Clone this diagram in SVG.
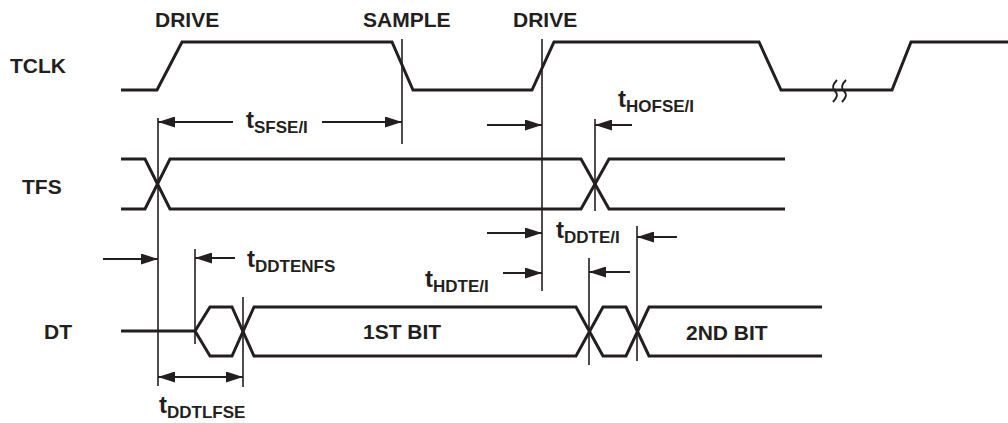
<svg xmlns="http://www.w3.org/2000/svg" width="1008" height="423" viewBox="0 0 1008 423">
<defs>
<style>
.wave{fill:none;stroke:#231f20;stroke-width:3;stroke-linejoin:miter}
.vl{fill:none;stroke:#231f20;stroke-width:1.6}
.ar{fill:none;stroke:#231f20;stroke-width:1.8}
.lbl{font-family:"Liberation Sans",Arial,sans-serif;font-weight:bold;font-size:21px;fill:#231f20}
.t{font-family:"Liberation Sans",Arial,sans-serif;font-weight:bold;font-size:24px;fill:#231f20}
.sub{font-size:17px}
</style>
<marker id="ah" viewBox="0 0 17 11" refX="17" refY="5.5" markerWidth="17" markerHeight="11" markerUnits="userSpaceOnUse" orient="auto-start-reverse">
<path d="M0,0 L17,5.5 L0,11 z" fill="#231f20"/>
</marker>
</defs>
<rect width="1008" height="423" fill="#ffffff"/>

<g id="labels">
<text class="lbl" x="155" y="27">DRIVE</text>
<text class="lbl" x="363" y="27">SAMPLE</text>
<text class="lbl" x="513" y="27">DRIVE</text>
</g>

<g id="TCLK">
<text class="lbl" x="10" y="73">TCLK</text>
<polyline class="wave" points="121,90 157,90 182,42 392,42 413,90 532,90 554,42 759,42 781,90 892,90 911,42 1008,42"/>
<path d="M837,80 C832,85 832,88 835,91 C838,94 838,97 833,102 M846,80 C841,85 841,88 844,91 C847,94 847,97 842,102" fill="none" stroke="#231f20" stroke-width="2"/>
</g>

<g id="TFS">
<text class="lbl" x="22" y="194">TFS</text>
<polyline class="wave" points="121,159 145,159 170,209 581,209 609,159 785,159"/>
<polyline class="wave" points="121,209 145,209 170,159 581,159 609,209 785,209"/>
</g>

<g id="DT">
<text class="lbl" x="44" y="339">DT</text>
<polyline class="wave" points="121,331 195,331 210,307 232,307 254,356 576,356 603,307 626,307 649,356 822,356"/>
<polyline class="wave" points="195,331 210,356 232,356 254,307 576,307 603,356 626,356 649,307 822,307"/>
<text class="lbl" x="363" y="339">1ST BIT</text>
<text class="lbl" x="686" y="340">2ND BIT</text>
</g>

<g id="connectors">
<line class="vl" x1="158" y1="118" x2="158" y2="386"/>
<line class="vl" x1="402" y1="39" x2="402" y2="144"/>
<line class="vl" x1="542" y1="39" x2="542" y2="291"/>
<line class="vl" x1="595" y1="119" x2="595" y2="211"/>
<line class="vl" x1="195" y1="249" x2="195" y2="344"/>
<line class="vl" x1="243" y1="297" x2="243" y2="387"/>
<line class="vl" x1="589" y1="258" x2="589" y2="365"/>
<line class="vl" x1="637" y1="226" x2="637" y2="361"/>

<line class="ar" x1="233" y1="122" x2="158" y2="122" marker-end="url(#ah)"/>
<line class="ar" x1="322" y1="122" x2="402" y2="122" marker-end="url(#ah)"/>
<line class="ar" x1="487" y1="125" x2="542" y2="125" marker-end="url(#ah)"/>
<line class="ar" x1="632" y1="125" x2="595" y2="125" marker-end="url(#ah)"/>
<line class="ar" x1="487" y1="233" x2="542" y2="233" marker-end="url(#ah)"/>
<line class="ar" x1="677" y1="237" x2="637" y2="237" marker-end="url(#ah)"/>
<line class="ar" x1="103" y1="259" x2="158" y2="259" marker-end="url(#ah)"/>
<line class="ar" x1="235" y1="258" x2="195" y2="258" marker-end="url(#ah)"/>
<line class="ar" x1="503" y1="273" x2="542" y2="273" marker-end="url(#ah)"/>
<line class="ar" x1="630" y1="272" x2="589" y2="272" marker-end="url(#ah)"/>
<line class="ar" x1="158" y1="377" x2="243" y2="377" marker-start="url(#ah)" marker-end="url(#ah)"/>
</g>

<g id="timing-labels">
<text class="t" x="246" y="128">t<tspan class="sub" dy="5">SFSE/I</tspan></text>
<text class="t" x="618" y="107">t<tspan class="sub" dy="5">HOFSE/I</tspan></text>
<text class="t" x="247" y="267">t<tspan class="sub" dy="5">DDTENFS</tspan></text>
<text class="t" x="556" y="238">t<tspan class="sub" dy="5">DDTE/I</tspan></text>
<text class="t" x="425" y="287">t<tspan class="sub" dy="5">HDTE/I</tspan></text>
<text class="t" x="159" y="413">t<tspan class="sub" dy="5">DDTLFSE</tspan></text>
</g>
</svg>
